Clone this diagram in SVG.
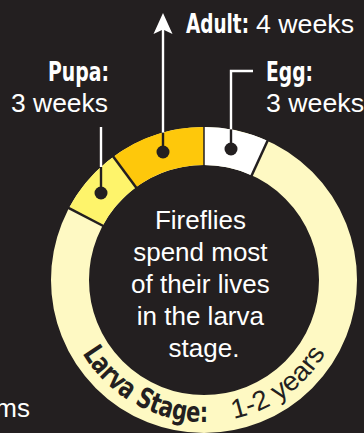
<svg xmlns="http://www.w3.org/2000/svg" width="364" height="433" viewBox="0 0 364 433">
<style>
.bg{fill:#231f20}
.seg{fill:none;stroke-width:38}
.div{stroke:#231f20;stroke-width:2.5;fill:none}
.wl{stroke:#ffffff;stroke-width:2.4;fill:none}
.dl{stroke:#231f20;stroke-width:2.4;fill:none}
.dot{fill:#231f20}
.reg{font-family:"Liberation Sans",Arial,sans-serif;font-size:26px;fill:#ffffff}
.bold{font-family:"Liberation Sans Narrow","DejaVu Sans Condensed","Liberation Sans",sans-serif;font-weight:bold;font-size:26px;fill:#ffffff}
.rb{font-family:"Liberation Sans Narrow","DejaVu Sans Condensed","Liberation Sans",sans-serif;font-weight:bold;font-size:28px;fill:#231f20}
.rr{font-family:"Liberation Sans",Arial,sans-serif;font-size:27px;fill:#231f20}
</style>
<defs>
<path id="arc" d="M 62,280 A 142 142 0 0 0 346,280"/>
</defs>
<rect class="bg" x="0" y="0" width="364" height="433"/>
<g id="ring">
<circle class="seg" cx="204" cy="280" r="134" stroke="#fef9c3"/>
<path class="seg" stroke="#fef46b" d="M 85.7,217.1 A 134 134 0 0 1 124.7,172.0"/>
<path class="seg" stroke="#fec80b" d="M 124.7,172.0 A 134 134 0 0 1 204,146"/>
<path class="seg" stroke="#ffffff" d="M 204,146 A 134 134 0 0 1 259.6,158.1"/>
<line class="div" x1="104.3" y1="226.5" x2="68.0" y2="207.7"/>
<line class="div" x1="136.5" y1="188.1" x2="112.8" y2="155.9"/>
<line class="div" x1="204" y1="166" x2="204" y2="126" style="stroke-width:1.5"/>
<line class="div" x1="251.3" y1="176.3" x2="267.9" y2="139.9"/>
</g>
<g id="connectors">
<line class="wl" x1="101" y1="127" x2="101" y2="167"/>
<line class="dl" x1="101" y1="167" x2="101" y2="193"/>
<line class="wl" x1="163" y1="28" x2="163" y2="133"/>
<line class="dl" x1="163" y1="132.6" x2="163" y2="152"/>
<polygon fill="#ffffff" points="163,13 172.5,34 163,29.5 153.5,34"/>
<polyline class="wl" points="253,71 231,71 231,129.6"/>
<line class="dl" x1="231" y1="129.4" x2="231" y2="149"/>
</g>
<g id="pupa">
<circle class="dot" cx="101" cy="193" r="6.5"/>
<text class="bold" x="109" y="80.5" text-anchor="end" textLength="61" lengthAdjust="spacingAndGlyphs">Pupa:</text>
<text class="reg" x="11" y="112" textLength="97" lengthAdjust="spacingAndGlyphs">3 weeks</text>
</g>
<g id="adult">
<circle class="dot" cx="163" cy="152" r="6.5"/>
<text class="bold" x="186" y="32.5" textLength="63" lengthAdjust="spacingAndGlyphs">Adult:</text>
<text class="reg" x="256" y="32.5" textLength="98" lengthAdjust="spacingAndGlyphs">4 weeks</text>
</g>
<g id="egg">
<circle class="dot" cx="231" cy="149" r="6.5"/>
<text class="bold" x="266" y="80.5" textLength="47" lengthAdjust="spacingAndGlyphs">Egg:</text>
<text class="reg" x="266" y="112" textLength="98" lengthAdjust="spacingAndGlyphs">3 weeks</text>
</g>
<g id="larva">
<text class="rb"><textPath href="#arc" startOffset="77" textLength="150" lengthAdjust="spacingAndGlyphs">Larva Stage:</textPath></text>
<text class="rr"><textPath href="#arc" startOffset="253" textLength="116" lengthAdjust="spacingAndGlyphs">1-2 years</textPath></text>
</g>
<g id="center-text">
<text class="reg" text-anchor="middle">
<tspan x="204" y="229">Fireflies</tspan>
<tspan x="204" y="261">spend most</tspan>
<tspan x="204" y="293">of their lives</tspan>
<tspan x="204" y="325">in the larva</tspan>
<tspan x="204" y="357">stage.</tspan>
</text>
</g>
<text class="reg" x="30" y="417" text-anchor="end">ms</text>
</svg>
